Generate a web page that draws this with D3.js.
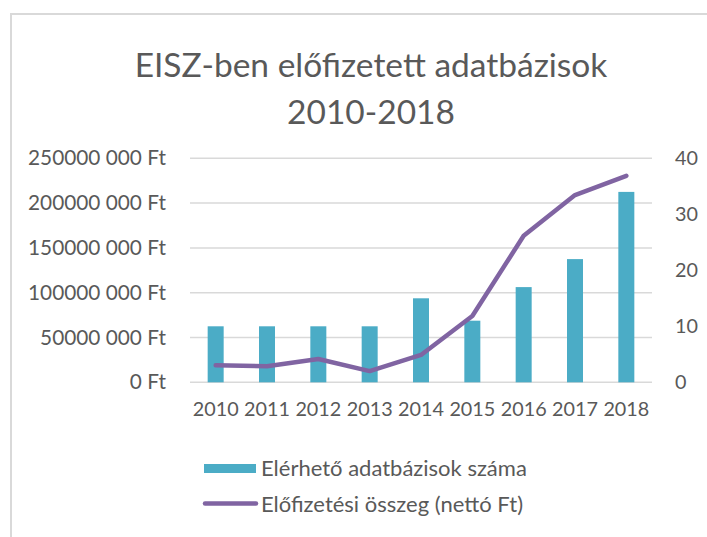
<!DOCTYPE html>
<html>
<head>
<meta charset="utf-8">
<script src="https://cdn.jsdelivr.net/npm/d3@7"></script>
<style>
    body { margin: 0; background: #fff; }
    text { font-family: Lato, "Open Sans", sans-serif; fill: #595959; }
</style>
</head>
<body>
<div id="chart"></div>
<script>
    // data
    var years = ["2010", "2011", "2012", "2013", "2014", "2015", "2016", "2017", "2018"];
    var dbCount = [10, 10, 10, 10, 15, 11, 17, 22, 34];
    var subscription = [19000000, 18000000, 26000000, 12500000, 30500000, 74000000, 163500000, 209000000, 230500000];
    var leftTicks = [0, 50000000, 100000000, 150000000, 200000000, 250000000];
    var rightTicks = [0, 10, 20, 30, 40];
    var barName = "Elérhető adatbázisok száma";
    var lineName = "Előfizetési összeg (nettó Ft)";

    var width = 707;
    var height = 537;
    var plot = { left: 190, right: 652, top: 158.3, bottom: 382.3 };

    var svg = d3.select("#chart")
        .append("svg")
        .attr("width", width)
        .attr("height", height);

    // outer frame
    svg.append("rect")
        .attr("x", 11)
        .attr("y", 14)
        .attr("width", 760)
        .attr("height", 600)
        .attr("fill", "none")
        .attr("stroke", "#d9d9d9")
        .attr("stroke-width", 2);

    // title
    var title = svg.append("text")
        .attr("text-anchor", "middle")
        .style("font-size", "33.5px");
    title.append("tspan").attr("x", 371).attr("y", 77).text("EISZ-ben előfizetett adatbázisok");
    title.append("tspan").attr("x", 371).attr("y", 124).text("2010-2018");

    var x = d3.scaleBand()
        .domain(years)
        .range([plot.left, plot.right]);

    var yLeft = d3.scaleLinear()
        .domain([0, 250000000])
        .range([plot.bottom, plot.top]);

    var yRight = d3.scaleLinear()
        .domain([0, 40])
        .range([plot.bottom, plot.top]);

    // gridlines
    svg.append("g")
        .selectAll("line")
        .data(leftTicks)
        .enter()
        .append("line")
        .attr("x1", plot.left)
        .attr("x2", plot.right)
        .attr("y1", function (d) { return yLeft(d); })
        .attr("y2", function (d) { return yLeft(d); })
        .attr("stroke", "#d9d9d9")
        .attr("stroke-width", 1.5);

    function ftFormat(d) {
        var s = String(d);
        if (s.length > 3) {
            s = s.slice(0, s.length - 3) + " " + s.slice(s.length - 3);
        }
        return s + " Ft";
    }

    var leftAxis = svg.append("g")
        .attr("transform", "translate(" + plot.left + ",0)")
        .call(d3.axisLeft(yLeft).tickValues(leftTicks).tickFormat(ftFormat).tickSize(0).tickPadding(24));
    leftAxis.select(".domain").remove();
    leftAxis.selectAll("text")
        .style("font-family", "Lato, sans-serif")
        .style("font-size", "20.8px")
        .attr("fill", "#595959");

    var rightAxis = svg.append("g")
        .attr("transform", "translate(" + plot.right + ",0)")
        .call(d3.axisRight(yRight).tickValues(rightTicks).tickSize(0).tickPadding(23));
    rightAxis.select(".domain").remove();
    rightAxis.selectAll("text")
        .style("font-family", "Lato, sans-serif")
        .style("font-size", "19.8px")
        .attr("fill", "#595959");

    var bottomAxis = svg.append("g")
        .attr("transform", "translate(0," + plot.bottom + ")")
        .call(d3.axisBottom(x).tickSize(0).tickPadding(20));
    bottomAxis.select(".domain").remove();
    bottomAxis.selectAll("text")
        .style("font-family", "Lato, sans-serif")
        .style("font-size", "19.8px")
        .attr("fill", "#595959");

    // bars (right axis)
    var barW = 16;
    svg.append("g")
        .selectAll("rect")
        .data(dbCount)
        .enter()
        .append("rect")
        .attr("x", function (d, i) { return x(years[i]) + x.bandwidth() / 2 - barW / 2; })
        .attr("y", function (d) { return yRight(d); })
        .attr("width", barW)
        .attr("height", function (d) { return yRight(0) - yRight(d); })
        .attr("fill", "#4bacc6");

    // line (left axis)
    var line = d3.line()
        .x(function (d, i) { return x(years[i]) + x.bandwidth() / 2; })
        .y(function (d) { return yLeft(d); });

    svg.append("path")
        .datum(subscription)
        .attr("d", line)
        .attr("fill", "none")
        .attr("stroke", "#8064a2")
        .attr("stroke-width", 4.5)
        .attr("stroke-linejoin", "round")
        .attr("stroke-linecap", "round");

    // legend
    var legend = svg.append("g");
    legend.append("rect")
        .attr("x", 204)
        .attr("y", 464)
        .attr("width", 52)
        .attr("height", 9)
        .attr("fill", "#4bacc6");
    legend.append("text")
        .attr("x", 261)
        .attr("y", 476)
        .style("font-size", "22px")
        .text(barName);
    legend.append("line")
        .attr("x1", 205)
        .attr("x2", 256)
        .attr("y1", 503.5)
        .attr("y2", 503.5)
        .attr("stroke", "#8064a2")
        .attr("stroke-width", 4.5)
        .attr("stroke-linecap", "round");
    legend.append("text")
        .attr("x", 261)
        .attr("y", 512)
        .style("font-size", "22px")
        .text(lineName);
</script>
</body>
</html>
